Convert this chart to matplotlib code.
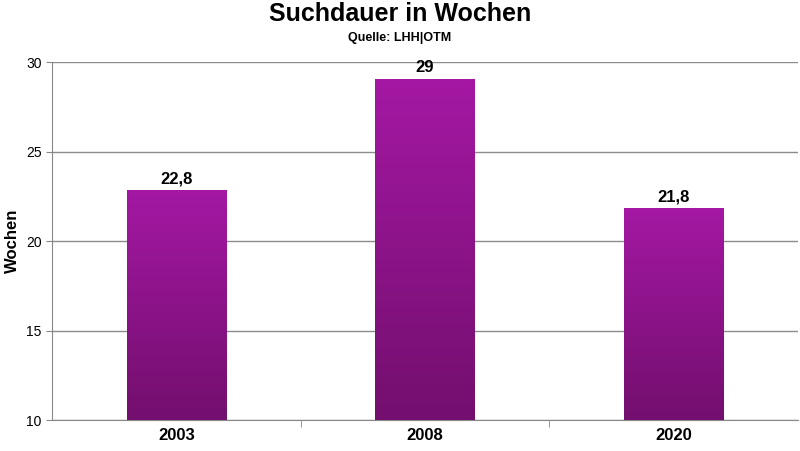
import matplotlib
matplotlib.use("Agg")
import matplotlib.pyplot as plt
import numpy as np
from matplotlib.colors import LinearSegmentedColormap

plt.rcParams['font.family'] = ['Liberation Sans', 'DejaVu Sans']

categories = ["2003", "2008", "2020"]
values = [22.8, 29, 21.8]
labels = ["22,8", "29", "21,8"]

fig = plt.figure(figsize=(8, 4.51), dpi=100)
ax = fig.add_axes([0.065, 0.0687, 0.9325, 0.7938])
x = np.arange(len(categories))
bars = ax.bar(x, values, width=0.4, color='none', zorder=3)
cmap = LinearSegmentedColormap.from_list("g", ["#730f6e", "#a418a3"])
grad = np.linspace(0, 1, 256).reshape(-1, 1)
for b in bars:
    x0, y0 = b.get_x(), 10
    ax.imshow(grad, cmap=cmap, origin='lower', aspect='auto', zorder=3,
              extent=[x0, x0 + b.get_width(), y0, b.get_height()])
for xi, v, l in zip(x, values, labels):
    ax.text(xi, v + 0.25, l, ha='center', va='bottom', fontsize=12, fontweight='bold')

ax.set_xlim(-0.5, len(categories) - 0.5)
ax.set_ylim(10, 30)
ax.set_yticks([10, 15, 20, 25, 30])
ax.set_xticks(x)
ax.set_xticklabels(categories, fontsize=12, fontweight='bold')
ax.set_xticks([0.5, 1.5], minor=True)
ax.tick_params(axis='x', which='major', length=0, pad=6)
ax.tick_params(axis='x', which='minor', length=5, color='#888888')
ax.tick_params(axis='y', labelsize=10, length=4, color='#888888')
ax.yaxis.grid(True, color='#8c8c8c', linewidth=1, zorder=0)
for s in ['top', 'right']:
    ax.spines[s].set_visible(False)
for s in ['left', 'bottom']:
    ax.spines[s].set_color('#888888')
ax.set_ylabel("Wochen", fontsize=12, fontweight='bold')

fig.text(0.5, 0.97, "Suchdauer in Wochen", ha='center', va='center', fontsize=18, fontweight='bold')
fig.text(0.5, 0.915, "Quelle: LHH|OTM", ha='center', va='center', fontsize=9, fontweight='bold')

fig.savefig("out.png", dpi=100)
